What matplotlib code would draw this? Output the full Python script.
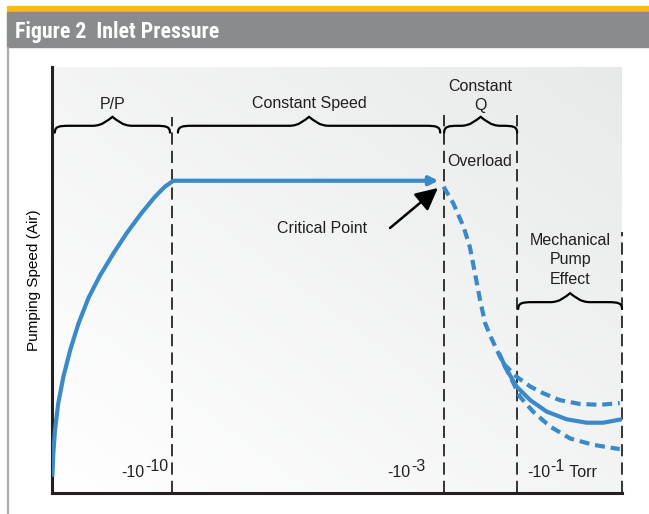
import numpy as np
import matplotlib.pyplot as plt
from matplotlib import font_manager
from matplotlib.path import Path
from matplotlib.patches import PathPatch, Rectangle

plt.rcParams['font.family'] = ['Liberation Sans', 'DejaVu Sans']

# x: position along the (log) inlet pressure axis, 0..10
# y: pumping speed, 0..100 (arbitrary units)
RISE_X = [0.005, 0.023, 0.053, 0.11, 0.20, 0.32, 0.46, 0.64, 0.84, 1.08, 1.31, 1.57,
          1.81, 1.98, 2.13, 6.72]
RISE_Y = [3.8, 9.3, 14.8, 21.1, 27.3, 33.6, 39.6, 45.8, 51.0, 56.3, 61.0, 65.7,
          69.6, 71.9, 73.3, 73.3]

OVERLOAD_X = [6.87, 7.04, 7.22, 7.33, 7.42, 7.51, 7.60, 7.71, 7.86, 8.04, 8.21, 8.44,
              8.74, 9.09, 9.50, 9.96]
OVERLOAD_Y = [71.9, 68.0, 62.5, 57.8, 51.6, 45.3, 39.8, 36.3, 32.0, 27.3, 22.6, 19.1,
              15.6, 12.8, 11.3, 10.3]

UPPER_X = [7.92, 8.15, 8.39, 8.62, 8.91, 9.26, 9.61, 9.96]
UPPER_Y = [30.4, 27.3, 25.0, 23.4, 21.8, 20.9, 20.7, 21.1]

MECH_X = [7.86, 7.95, 8.15, 8.39, 8.68, 9.03, 9.38, 9.67, 9.99]
MECH_Y = [32.4, 29.6, 25.0, 21.8, 19.1, 17.3, 16.5, 16.5, 17.3]

BOUNDARY_X = [2.11, 6.88, 8.16, 10.0]
BOUNDARY_TOP = [88.3, 88.7, 88.7, 61.3]

REGIONS = ['P/P', 'Constant Speed', 'Constant\nQ', 'Mechanical\nPump\nEffect']
REGION_SPAN = [(0.05, 2.07), (2.21, 6.81), (6.88, 8.16), (8.18, 10.0)]
REGION_BRACE_Y = [86.2, 86.2, 86.2, 44.8]
REGION_LABEL_Y = [91.3, 91.5, 93.2, 54.7]

PRESSURE_BASE = ['-10', '-10', '-10']
PRESSURE_EXP = ['-10', '-3', '-1']
PRESSURE_UNIT = ['', '', ' Torr']
PRESSURE_X = [1.21, 5.89, 8.33]

BLUE = '#3a89c9'
INK = '#231f20'
W, H = 649, 514


def brace(ax, x0, x1, y, up=2.1, down=1.6, c=0.25, r=0.35):
    xm = (x0 + x1) / 2
    verts = [
        (x0, y - down),
        (x0, y - 0.1 * down), (x0 + 0.3 * c, y), (x0 + c, y),
        (xm - r, y),
        (xm - 0.5 * r, y), (xm - 0.25 * r, y + 0.6 * up), (xm, y + up),
        (xm + 0.25 * r, y + 0.6 * up), (xm + 0.5 * r, y), (xm + r, y),
        (x1 - c, y),
        (x1 - 0.3 * c, y), (x1, y - 0.1 * down), (x1, y - down),
    ]
    codes = [Path.MOVETO] + [Path.CURVE4] * 3 + [Path.LINETO] + [Path.CURVE4] * 6 \
        + [Path.LINETO] + [Path.CURVE4] * 3
    ax.add_patch(PathPatch(Path(verts, codes), fill=False, lw=1.6, color='black',
                           capstyle='round', zorder=3, clip_on=False))


fig = plt.figure(figsize=(W / 100, H / 100), dpi=100)

# header band
fig.patches.append(Rectangle((7 / W, 1 - 12 / H), 1, 6 / H, transform=fig.transFigure,
                             color='#fdbb10', zorder=0))
fig.patches.append(Rectangle((7 / W, 1 - 47 / H), 1, 35 / H, transform=fig.transFigure,
                             color='#898b8c', zorder=0))
fig.patches.append(Rectangle((6.5 / W, 0), 1.2 / W, 1 - 47 / H, transform=fig.transFigure,
                             color='#b0b0b0', zorder=0))

installed = {f.name for f in font_manager.fontManager.ttflist}
title_font = next((n for n in ['Liberation Sans Narrow', 'Roboto Condensed',
                               'Open Sans Condensed', 'Roboto', 'Liberation Sans']
                   if n in installed), 'DejaVu Sans')
title = fig.text(15 / W, 1 - 38 / H, 'Figure 2  Inlet Pressure', color='white',
                 fontsize=17, fontweight='bold', family=title_font, fontstretch='condensed')
fig.canvas.draw()
tw = title.get_window_extent().width
if tw > 205:
    title.set_fontsize(17 * 205 / tw)

ax = fig.add_axes([52 / W, 21 / H, 570 / W, 426 / H])
ax.set_xlim(0, 10)
ax.set_ylim(0, 100)

# diagonal background shade
gx, gy = np.meshgrid(np.linspace(0, 1, 200), np.linspace(0, 1, 200))
t = ((gx + gy) / 2)[..., None]
shade = np.array([1.0, 1.0, 1.0]) * (1 - t) + np.array([0.91, 0.915, 0.915]) * t
ax.imshow(shade, extent=[0, 10, 0, 100], origin='lower', aspect='auto', zorder=0)

for s in ['top', 'right']:
    ax.spines[s].set_visible(False)
for s in ['left', 'bottom']:
    ax.spines[s].set_linewidth(2.2)
    ax.spines[s].set_color(INK)
ax.set_xticks([])
ax.set_yticks([])
ax.set_ylabel('Pumping Speed (Air)', fontsize=11, labelpad=8)

for bx, top in zip(BOUNDARY_X, BOUNDARY_TOP):
    ax.plot([bx, bx], [0, top], color='black', lw=1.1, ls=(0, (8, 4)), zorder=2, clip_on=False)

for name, (x0, x1), by, ly in zip(REGIONS, REGION_SPAN, REGION_BRACE_Y, REGION_LABEL_Y):
    brace(ax, x0, x1, by)
    ax.text((x0 + x1) / 2, ly, name, ha='center', va='center', fontsize=11.5,
            linespacing=1.35, color=INK)

ax.text(7.51, 77.9, 'Overload', ha='center', va='center', fontsize=11.5, color=INK)

# curves
ax.plot(RISE_X[:-1], RISE_Y[:-1], color=BLUE, lw=3, solid_capstyle='butt',
        solid_joinstyle='round', zorder=4)
ax.annotate('', xy=(RISE_X[-1] + 0.06, RISE_Y[-1]), xytext=(RISE_X[-2], RISE_Y[-2]),
            arrowprops=dict(arrowstyle='-|>,head_length=0.5,head_width=0.25', lw=3,
                            color=BLUE, shrinkA=0, shrinkB=0), zorder=4)
ax.plot(OVERLOAD_X, OVERLOAD_Y, color=BLUE, lw=3, ls=(0, (2.4, 1.4)), zorder=4)
ax.plot(UPPER_X, UPPER_Y, color=BLUE, lw=3, ls=(0, (2.4, 1.4)), zorder=4)
ax.plot(MECH_X, MECH_Y, color=BLUE, lw=3, solid_joinstyle='round', zorder=4)

# critical point
ax.text(4.74, 62.2, 'Critical Point', ha='center', va='center', fontsize=11.5, color=INK)
ax.annotate('', xy=(6.77, 71.6), xytext=(5.93, 62.2),
            arrowprops=dict(arrowstyle='-|>,head_length=0.9,head_width=0.45', lw=1.8,
                            color='black', shrinkA=0, shrinkB=0, mutation_scale=15), zorder=5)

# pressure labels with full-size raised exponents
for base, exp, unit, px in zip(PRESSURE_BASE, PRESSURE_EXP, PRESSURE_UNIT, PRESSURE_X):
    b = ax.text(px, 3.0, base, ha='left', va='bottom', fontsize=11.5, color=INK)
    e = ax.annotate(exp, xy=(1, 0), xycoords=b, xytext=(0.5, 4.5),
                    textcoords='offset points', ha='left', va='bottom',
                    fontsize=11.5, color=INK)
    if unit:
        ax.annotate(unit, xy=(1, 0), xycoords=e, xytext=(0, -4.5),
                    textcoords='offset points', ha='left', va='bottom',
                    fontsize=11.5, color=INK)

fig.savefig('out.png', dpi=100)
